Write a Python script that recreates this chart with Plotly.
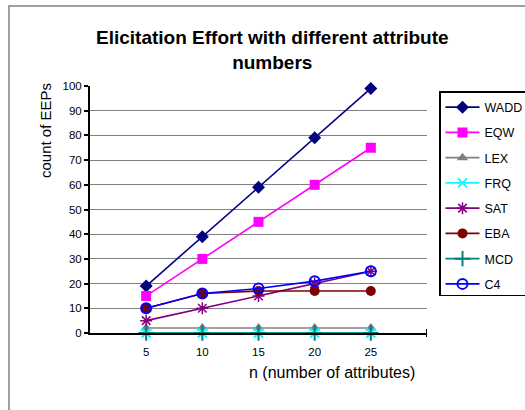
import plotly.graph_objects as go

n_attr = [5, 10, 15, 20, 25]
wadd = [19, 39, 59, 79, 99]
eqw = [15, 30, 45, 60, 75]
lex = [2, 2, 2, 2, 2]
frq = [0, 0, 0, 0, 0]
sat = [5, 10, 15, 20, 25]
eba = [10, 16, 17, 17, 17]
mcd = [0, 0, 0, 0, 0]
c4 = [10, 16, 18, 21, 25]
y_ticks = [0, 10, 20, 30, 40, 50, 60, 70, 80, 90, 100]

series = [
    ("WADD", wadd, "#000080", "diamond", 10, None),
    ("EQW", eqw, "#FF00FF", "square", 10, None),
    ("LEX", lex, "#808080", "triangle-up", 10, None),
    ("FRQ", frq, "#00FFFF", "x-thin-open", 9, 2),
    ("SAT", sat, "#800080", "asterisk-open", 10, 1.5),
    ("EBA", eba, "#800000", "circle", 10, None),
    ("MCD", mcd, "#008080", "cross-thin-open", 11, 2),
    ("C4", c4, "#0000FF", "circle-open", 10, 2),
]

W, H = 525, 410
L, R, T, B = 90, 98, 86, 77
PW, PH = W - L - R, H - T - B


def px(x):
    return (x - L) / PW


def py(y):
    return (H - B - y) / PH


fig = go.Figure()
for name, vals, col, sym, size, lw in series:
    marker = dict(symbol=sym, size=size, color=col)
    if lw is not None:
        marker["line"] = dict(color=col, width=lw)
    fig.add_trace(go.Scatter(
        x=n_attr, y=vals, name=name, mode="lines+markers",
        line=dict(color=col, width=1.6), marker=marker,
        legendgroup=name, cliponaxis=False,
    ))

fig.update_layout(
    width=W, height=H,
    margin=dict(l=L, r=R, t=T, b=B, autoexpand=False),
    plot_bgcolor="white", paper_bgcolor="white",
    font=dict(family="Arial, Liberation Sans, sans-serif", color="black", size=11.5),
    showlegend=True,
    legend=dict(
        xref="container", yref="container",
        x=439 / W, y=1 - 91 / H, xanchor="left", yanchor="top",
        bordercolor="black", borderwidth=1.5, bgcolor="white",
        font=dict(size=12.5), tracegroupgap=6, traceorder="grouped",
        itemwidth=34,
    ),
    xaxis=dict(
        range=[0, 30], tickvals=n_attr, ticktext=[str(v) for v in n_attr],
        showgrid=False, showline=True, linecolor="black", linewidth=2,
        ticks="", zeroline=False, ticklabelstandoff=7,
    ),
    yaxis=dict(
        range=[0, 100], tickvals=y_ticks, showgrid=True, gridcolor="#808080",
        gridwidth=1, showline=True, linecolor="black", linewidth=2,
        ticks="outside", ticklen=4, tickwidth=2, tickcolor="black",
        zeroline=False,
    ),
    annotations=[
        dict(text="<b>Elicitation Effort with different attribute<br>numbers</b>",
             x=px(272), y=py(50), xref="paper", yref="paper", showarrow=False,
             xanchor="center", yanchor="middle",
             font=dict(size=19), align="center"),
        dict(text="count of EEPs", textangle=-90, x=px(45), y=py(131),
             xanchor="center", yanchor="middle",
             xref="paper", yref="paper", showarrow=False, font=dict(size=15)),
        dict(text="n (number of attributes)", x=px(332), y=py(372),
             xanchor="center", yanchor="middle",
             xref="paper", yref="paper", showarrow=False, font=dict(size=16)),
    ],
    shapes=[
        dict(type="rect", xref="paper", yref="paper", x0=px(9), x1=px(700),
             y0=py(600), y1=py(6), line=dict(color="#808080", width=1.5)),
        dict(type="line", xref="x", yref="paper", x0=30, x1=30, y0=-0.016,
             y1=0.016, line=dict(color="black", width=2)),
    ],
)

fig.write_html("out.html")
